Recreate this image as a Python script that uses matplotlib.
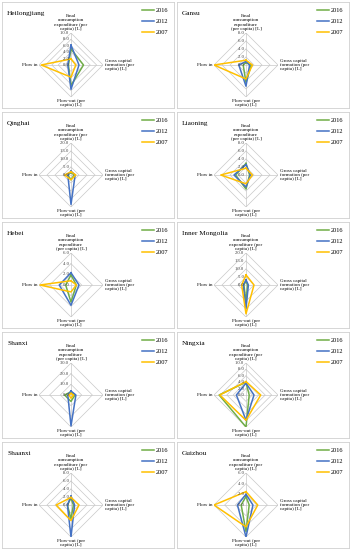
import numpy as np
import matplotlib
matplotlib.use("Agg")
import matplotlib.pyplot as plt
from matplotlib.lines import Line2D

plt.rcParams['font.family'] = ['Liberation Serif', 'DejaVu Serif']

# provinces, left->right, top->bottom
provinces = ["Heilongjiang", "Gansu", "Qinghai", "Liaoning", "Hebei",
             "Inner Mongolia", "Shanxi", "Ningxia", "Shaanxi", "Guizhou"]
years = ["2016", "2012", "2007"]
colors = ["#70AD47", "#4472C4", "#FFC000"]

# order of axes: final consumption (top), gross capital (right), flow-out (bottom), flow-in (left)
v2016 = [[5.0, 3.9, 6.4, 0.8], [0.6, 1.3, 4.4, 0.7], [1.6, 2.0, 3.0, 2.0],
         [2.9, 0.9, 3.5, 2.6], [1.9, 1.0, 3.2, 1.0], [2.5, 1.0, 10.5, 1.3],
         [3.0, 3.7, 6.0, 6.0], [4.0, 1.0, 10.0, 8.4], [1.7, 0.6, 3.5, 0.9],
         [1.6, 0.6, 5.0, 0.9]]
v2012 = [[6.2, 2.5, 7.6, 1.0], [0.9, 0.9, 5.3, 1.8], [2.4, 2.6, 18.4, 2.0],
         [2.6, 1.1, 3.0, 3.0], [2.3, 1.5, 3.8, 2.2], [3.2, 1.5, 14.7, 1.7],
         [3.7, 4.6, 29.0, 3.0], [3.7, 2.5, 7.9, 3.0], [2.2, 0.9, 8.0, 0.9],
         [2.0, 1.3, 6.0, 1.6]]
v2007 = [[1.9, 1.5, 3.8, 9.3], [1.2, 1.6, 3.5, 8.0], [2.0, 3.0, 3.0, 4.0],
         [1.7, 1.6, 2.2, 6.3], [0.8, 1.0, 1.3, 5.8], [6.3, 5.0, 18.0, 2.7],
         [1.5, 2.4, 3.0, 2.0], [4.2, 4.6, 7.9, 8.2], [1.9, 2.0, 3.9, 3.7],
         [2.5, 2.2, 4.1, 6.0]]
rmax = [10.0, 8.0, 20.0, 8.0, 6.0, 20.0, 30.0, 10.0, 8.0, 6.0]
rstep = [2.0, 2.0, 5.0, 2.0, 2.0, 5.0, 10.0, 2.0, 2.0, 2.0]

top_labels = ["Final\nconsumption\nexpenditure (per\ncapita) [L]",
              "Final\nconsumption\nexpenditure\n(per capita) [L]"]
right_label = "Gross capital\nformation (per\ncapita) [L]"
bottom_label = "Flow-out (per\ncapita) [L]"
left_label = "Flow in"

angles = np.array([90, 0, 270, 180]) * np.pi / 180

fig = plt.figure(figsize=(3.52, 5.5), dpi=100)
W, H = 352, 550

for i, name in enumerate(provinces):
    col = i % 2
    row = i // 2
    x0 = 2 + col * 175
    y0 = 2 + row * 110
    w, h = 172, 106
    frame = fig.add_axes([x0 / W, 1 - (y0 + h) / H, w / W, h / H])
    frame.set_xticks([])
    frame.set_yticks([])
    for s in frame.spines.values():
        s.set_color("#D0D0D0")
        s.set_linewidth(0.6)
    frame.text(0.03, 0.89, name, transform=frame.transAxes, fontsize=5.2,
               va="center", ha="left")
    handles = [Line2D([0], [0], color=c, lw=1.1) for c in colors]
    frame.legend(handles, years, loc="upper right", frameon=False,
                 fontsize=4.6, handlelength=2.0, handletextpad=0.2,
                 labelspacing=0.85, borderaxespad=0.5)

    cx = x0 + 69
    cy = y0 + 63
    rad = 32
    ax = fig.add_axes([(cx - rad) / W, 1 - (cy + rad) / H, 2 * rad / W, 2 * rad / H],
                      projection="polar")
    ax.set_ylim(0, rmax[i])
    ax.set_xticks([])
    ax.set_yticks([])
    ax.spines["polar"].set_visible(False)
    ax.patch.set_alpha(0)

    rings = np.arange(rstep[i], rmax[i] + 0.01, rstep[i])
    for r in rings:
        ax.plot(np.append(angles, angles[0]), [r] * 5, color="#C8C8C8", lw=0.5)
    for a in angles:
        ax.plot([a, a], [0, rmax[i]], color="#C8C8C8", lw=0.5)
    for r in np.append(0, rings):
        ax.text(np.pi / 2, r, f"{r:.1f}  ", fontsize=3.4, ha="right",
                va="center", color="#404040")

    for vals, c in zip([v2016[i], v2012[i], v2007[i]], colors):
        ax.plot(np.append(angles, angles[0]), vals + [vals[0]], color=c, lw=1.1)

    lab_fs = 3.6
    tl = top_labels[1] if name in ("Gansu", "Liaoning", "Hebei", "Shanxi") else top_labels[0]
    ax.text(np.pi / 2, rmax[i] * 1.07, tl, fontsize=lab_fs, ha="center",
            va="bottom", linespacing=1.05)
    ax.text(0, rmax[i] * 1.06, right_label, fontsize=lab_fs, ha="left",
            va="center", linespacing=1.05)
    ax.text(3 * np.pi / 2, rmax[i] * 1.07, bottom_label, fontsize=lab_fs,
            ha="center", va="top", linespacing=1.05)
    ax.text(np.pi, rmax[i] * 1.04, left_label, fontsize=lab_fs, ha="right",
            va="center")

fig.savefig("out.png", dpi=100)
